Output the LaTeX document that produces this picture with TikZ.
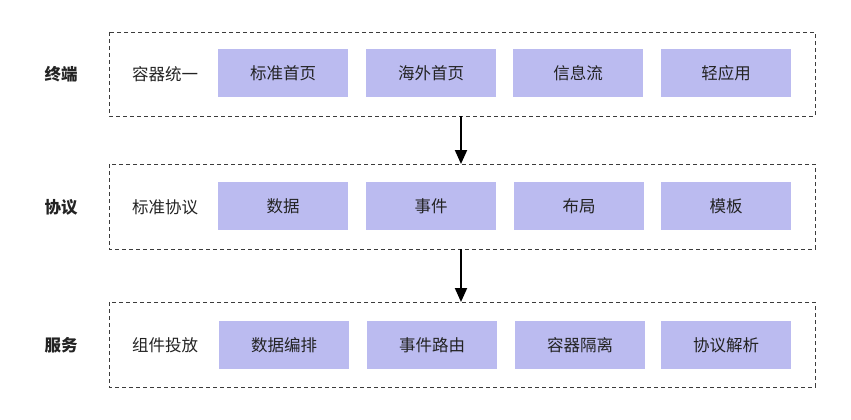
\documentclass[tikz,border=0pt]{standalone}
\usepackage{fontspec}
\setmainfont{Noto Sans CJK SC}
\usetikzlibrary{arrows.meta}
\definecolor{boxfill}{RGB}{187,187,240}
\definecolor{txt}{RGB}{35,35,35}
\definecolor{dash}{RGB}{60,60,60}
\tikzset{
  layer/.style={draw=dash, line width=0.9pt, dash pattern=on 4pt off 3pt},
  item/.style={fill=boxfill, draw=none, minimum width=130pt, minimum height=48pt, inner sep=0pt, text=txt, font=\fontsize{16.5}{20}\selectfont, anchor=north west},
  side/.style={text=txt, font=\fontsize{16.5}{20}\selectfont\bfseries},
  inner/.style={text=txt, font=\fontsize{16.5}{20}\selectfont},
  flow/.style={draw=black, line width=2pt, -{Triangle[width=12pt,length=14pt]}}
}
\begin{document}
\begin{tikzpicture}[x=1pt,y=-1pt]
\useasboundingbox (0,0) rectangle (851,420);
% layers
\draw[layer] (109,32) rectangle (815,116);
\draw[layer] (109,164) rectangle (815,249);
\draw[layer] (109,302) rectangle (815,387);
\node[coordinate] (l1b) at (461,116) {};
\node[coordinate] (l2t) at (461,164) {};
\node[coordinate] (l2b) at (461,249) {};
\node[coordinate] (l3t) at (461,302) {};
% row 1
\node[side] (s1) at (61,74) {终端};
\node[inner] (i1) at (165,74) {容器统一};
\node[item] (a1) at (218,49) {标准首页};
\node[item] (a2) at (366,49) {海外首页};
\node[item] (a3) at (513,49) {信息流};
\node[item] (a4) at (661,49) {轻应用};
% row 2
\node[side] (s2) at (61,207) {协议};
\node[inner] (i2) at (165,207) {标准协议};
\node[item] (b1) at (218,182) {数据};
\node[item] (b2) at (366,182) {事件};
\node[item] (b3) at (514,182) {布局};
\node[item] (b4) at (661,182) {模板};
% row 3
\node[side] (s3) at (61,345) {服务};
\node[inner] (i3) at (165,345) {组件投放};
\node[item] (c1) at (219,321) {数据编排};
\node[item] (c2) at (367,321) {事件路由};
\node[item] (c3) at (515,321) {容器隔离};
\node[item] (c4) at (661,321) {协议解析};
% arrows
\draw[flow] (l1b) -- (l2t);
\draw[flow] (l2b) -- (l3t);
\end{tikzpicture}
\end{document}
